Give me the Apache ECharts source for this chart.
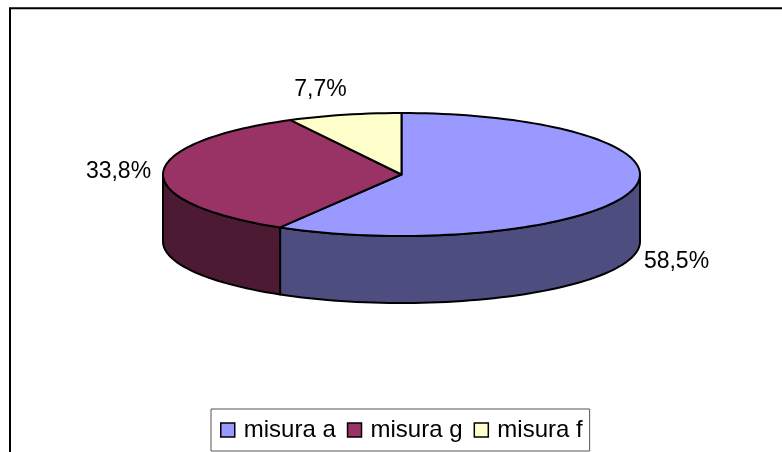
<!DOCTYPE html>
<html><head><meta charset="utf-8">
<style>html,body{margin:0;padding:0;background:#fff}#c{width:782px;height:452px}</style>
<script src="https://cdn.jsdelivr.net/npm/echarts@6/dist/echarts.min.js"></script>
</head><body><div id="c"></div>
<script>
const categories = ['misura a', 'misura g', 'misura f'];
const values = [58.5, 33.8, 7.7];
const labels = ['58,5%', '33,8%', '7,7%'];
const topColors = ['#9999FF', '#993366', '#FFFFCC'];
const sideColors = ['#4D4D80', '#4D1A33', '#808066'];

const cx = 401.5, cy = 174.5, rx = 238.5, ry = 61.5, depth = 67;
const total = values.reduce((a, b) => a + b, 0);
const stroke = { stroke: '#000', lineWidth: 2, lineJoin: 'round' };
const pt = (deg, dy) => {
  const r = deg * Math.PI / 180;
  return [cx + rx * Math.sin(r), cy + (dy || 0) - ry * Math.cos(r)];
};
const arc = (a, b, dy) => {
  const out = [];
  const n = Math.max(2, Math.ceil(Math.abs(b - a) / 2));
  for (let i = 0; i <= n; i++) out.push(pt(a + (b - a) * i / n, dy));
  return out;
};
let acc = 0;
const spans = values.map(v => { const s = acc / total * 360; acc += v; return [s, acc / total * 360]; });

function renderItem(params, api) {
  const i = api.value(0);
  const [a, b] = spans[i];
  const children = [];
  const wa = Math.max(a, 90), wb = Math.min(b, 270);
  if (wb > wa) {
    const pts = arc(wa, wb, 0).concat(arc(wb, wa, depth));
    children.push({ type: 'polygon', shape: { points: pts }, style: { fill: sideColors[i], ...stroke } });
  }
  const topPts = [[cx, cy]].concat(arc(a, b, 0));
  children.push({ type: 'polygon', z2: 5, shape: { points: topPts }, style: { fill: topColors[i], ...stroke } });
  return { type: 'group', children };
}

const chart = echarts.init(document.getElementById('c'), null, { renderer: 'canvas' });
const font = 'Liberation Sans';
const labelFont = '23px ' + font;
chart.setOption({
  animation: false,
  backgroundColor: '#fff',
  graphic: [
    { type: 'rect', z: -1, shape: { x: 10, y: 8.3, width: 790, height: 460 }, style: { fill: '#fff', stroke: '#000', lineWidth: 2 } },
    { type: 'text', x: 118.5, y: 172, style: { text: labels[1], font: labelFont, fill: '#000', align: 'center', verticalAlign: 'middle' } },
    { type: 'text', x: 320.5, y: 89.5, style: { text: labels[2], font: labelFont, fill: '#000', align: 'center', verticalAlign: 'middle' } },
    { type: 'text', x: 676.5, y: 261.5, style: { text: labels[0], font: labelFont, fill: '#000', align: 'center', verticalAlign: 'middle' } }
  ],
  legend: {
    data: categories,
    left: 211, top: 409,
    padding: [9, 7, 9, 9],
    itemGap: 11, itemWidth: 14, itemHeight: 14,
    icon: 'rect',
    backgroundColor: '#fff', borderColor: '#555', borderWidth: 1,
    textStyle: { fontFamily: font, fontSize: 24, color: '#000', padding: [0, 0, 0, 4] },
    itemStyle: { borderColor: '#000', borderWidth: 1.5 }
  },
  series: categories.map((name, i) => ({
    type: 'custom', name, coordinateSystem: 'none',
    renderItem, data: [[i, values[i]]],
    itemStyle: { color: topColors[i] }, silent: true
  }))
});
</script></body></html>
